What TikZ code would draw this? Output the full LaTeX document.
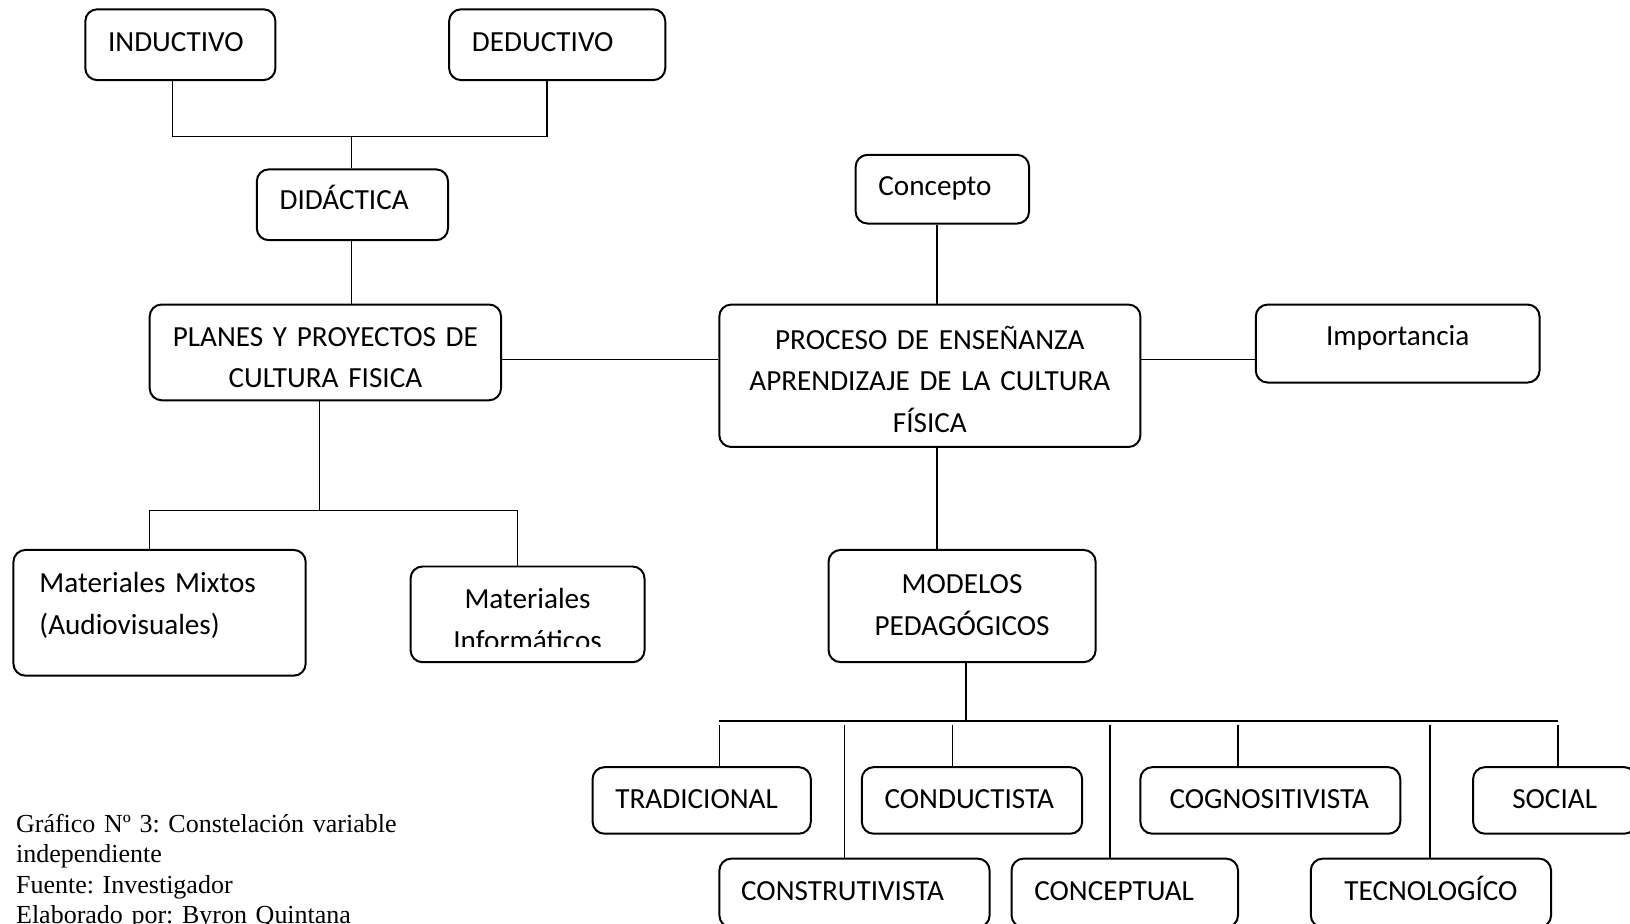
\documentclass[tikz,border=0pt]{standalone}
\usepackage{fontspec}
\setmainfont{Carlito}
\newfontfamily\serifcap{Liberation Serif}
\usepackage{tikz}
\newcommand\boxfont{\fontsize{11}{15.7}\selectfont}
\newcommand\capfont{\serifcap\fontsize{9.8}{11.4}\selectfont\frenchspacing}
\tikzset{
    box/.style={draw, line width=0.75pt, rounded corners=4.5pt, inner sep=0pt, font=\boxfont, align=center},
    lbox/.style={box, align=left, inner xsep=8.6pt},
    link/.style={line width=0.6pt},
    bus/.style={line width=0.9pt}
}

\begin{document}
\begin{tikzpicture}[x=0.392pt, y=-0.392pt]
    \useasboundingbox (0,0) rectangle (1568,888);
    \clip (0,0) rectangle (1568,888);
    % upper left branch
    \node[lbox, text width=54.5pt, minimum height=26.7pt, text height=5.5pt, text depth=0pt] at (173.5,43) (inductivo) {INDUCTIVO};
    \node[lbox, text width=64.3pt, minimum height=26.7pt, text height=5.5pt, text depth=0pt] at (536,43) (deductivo) {DEDUCTIVO};
    \node[lbox, text width=54.9pt, minimum height=26.7pt, text height=3.9pt, text depth=0pt] at (339,197) (didactica) {DIDÁCTICA};
    \node[box, text width=132.5pt, minimum height=36.1pt, text height=0pt, text depth=4.7pt] at (313,339) (planes) {PLANES Y PROYECTOS DE\\CULTURA FISICA};
    \node[lbox, inner xsep=9.8pt, text width=90.6pt, minimum height=47.4pt, text height=0pt, text depth=15.3pt] at (153.5,589.5) (mixtos) {Materiales Mixtos\\(Audiovisuales)};
    \node[box, minimum width=88.2pt, minimum height=36.1pt, path picture={
        \clip (path picture bounding box.north west) rectangle ([yshift=6pt]path picture bounding box.south east);
        \node[font=\boxfont, align=center, text width=88.2pt, inner sep=0pt, anchor=base] at ([yshift=2.2pt]path picture bounding box.center) {Materiales\\Informáticos};
    }] at (507.5,591) (informaticos) {};
    % centre
    \node[lbox, text width=48.2pt, minimum height=25.9pt, text height=4.7pt, text depth=0pt] at (906.5,182) (concepto) {Concepto};
    \node[box, text width=158.8pt, minimum height=53.7pt, text height=0pt, text depth=20pt] at (894.5,361.5) (proceso) {PROCESO DE ENSEÑANZA\\APRENDIZAJE DE LA CULTURA\\FÍSICA};
    \node[box, text width=107pt, minimum height=29.4pt, text height=1.2pt, text depth=0pt] at (1344.5,330.5) (importancia) {Importancia};
    \node[box, text width=100.7pt, minimum height=42.3pt, text height=0pt, text depth=9.4pt] at (925.5,583) (modelos) {MODELOS\\PEDAGÓGICOS};
    % models
    \node[lbox, text width=65.1pt, minimum height=25.1pt, text height=6.3pt, text depth=0pt] at (675,770) (tradicional) {TRADICIONAL};
    \node[lbox, text width=65.9pt, minimum height=25.1pt, text height=6.3pt, text depth=0pt] at (935,770) (conductista) {CONDUCTISTA};
    \node[lbox, inner xsep=11pt, text width=76pt, minimum height=25.1pt, text height=6.3pt, text depth=0pt] at (1222,770) (cognositivista) {COGNOSITIVISTA};
    \node[box, text width=61.5pt, minimum height=25.1pt, text height=6.3pt, text depth=0pt] at (1495.5,770) (social) {SOCIAL};
    \node[lbox, inner xsep=8.2pt, text width=85.5pt, minimum height=25.9pt, text height=5.5pt, text depth=0pt] at (822,859) (construtivista) {CONSTRUTIVISTA};
    \node[lbox, text width=68.2pt, minimum height=25.9pt, text height=5.5pt, text depth=0pt] at (1082,859) (conceptual) {CONCEPTUAL};
    \node[box, text width=90.6pt, minimum height=25.9pt, text height=5.5pt, text depth=0pt] at (1376.5,859) (tecnologico) {TECNOLOGÍCO};
    % caption
    \node[font=\capfont, anchor=base west, text width=170pt, align=left, inner sep=0pt] at (15,801) (caption) {Gráfico Nº 3: Constelación variable\\independiente\\Fuente: Investigador\\Elaborado por: Byron Quintana};

    \coordinate (t1) at (166,131.5);
    \coordinate (t2) at (526,131.5);
    \coordinate (t3) at (338,131.5);
    \coordinate (h1) at (600,346);
    \coordinate (v1) at (901.6,250);
    \coordinate (b1) at (307.5,491);
    \coordinate (b2) at (144,491);
    \coordinate (b3) at (498,491);
    \coordinate (m0) at (692,693.6);
    \coordinate (m1) at (929,693.6);
    \coordinate (m9) at (1498.7,693.6);
    \coordinate (d1) at (692,697.5);
    \coordinate (d2) at (812.5,697.5);
    \coordinate (d3) at (916.2,697.5);
    \coordinate (d4) at (1067.5,697.5);
    \coordinate (d5) at (1190.7,697.5);
    \coordinate (d6) at (1375.5,697.5);
    \coordinate (d7) at (1498.7,697.5);
    \path[link]
    (inductivo.south -| t1) edge (t1)
    (deductivo.south -| t2) edge (t2)
    (t1) edge (t2)
    (t3) edge (didactica.north -| t3)
    (didactica.south -| t3) edge (planes.north -| t3)
    (planes.east |- h1) edge (proceso.west |- h1)
    (proceso.east |- h1) edge (importancia.west |- h1)
    (concepto.south -| v1) edge (proceso.north -| v1)
    (planes.south -| b1) edge (b1)
    (b2) edge (b3)
    (b2) edge (mixtos.north -| b2)
    (b3) edge (informaticos.north -| b3)
    (proceso.south -| v1) edge (modelos.north -| v1)
    (modelos.south -| m1) edge (m1)
    (m0) edge[bus] (m9)
    (d1) edge (tradicional.north -| d1)
    (d2) edge (construtivista.north -| d2)
    (d3) edge (conductista.north -| d3)
    (d4) edge (conceptual.north -| d4)
    (d5) edge (cognositivista.north -| d5)
    (d6) edge (tecnologico.north -| d6)
    (d7) edge (social.north -| d7)
    ;
\end{tikzpicture}
\end{document}
